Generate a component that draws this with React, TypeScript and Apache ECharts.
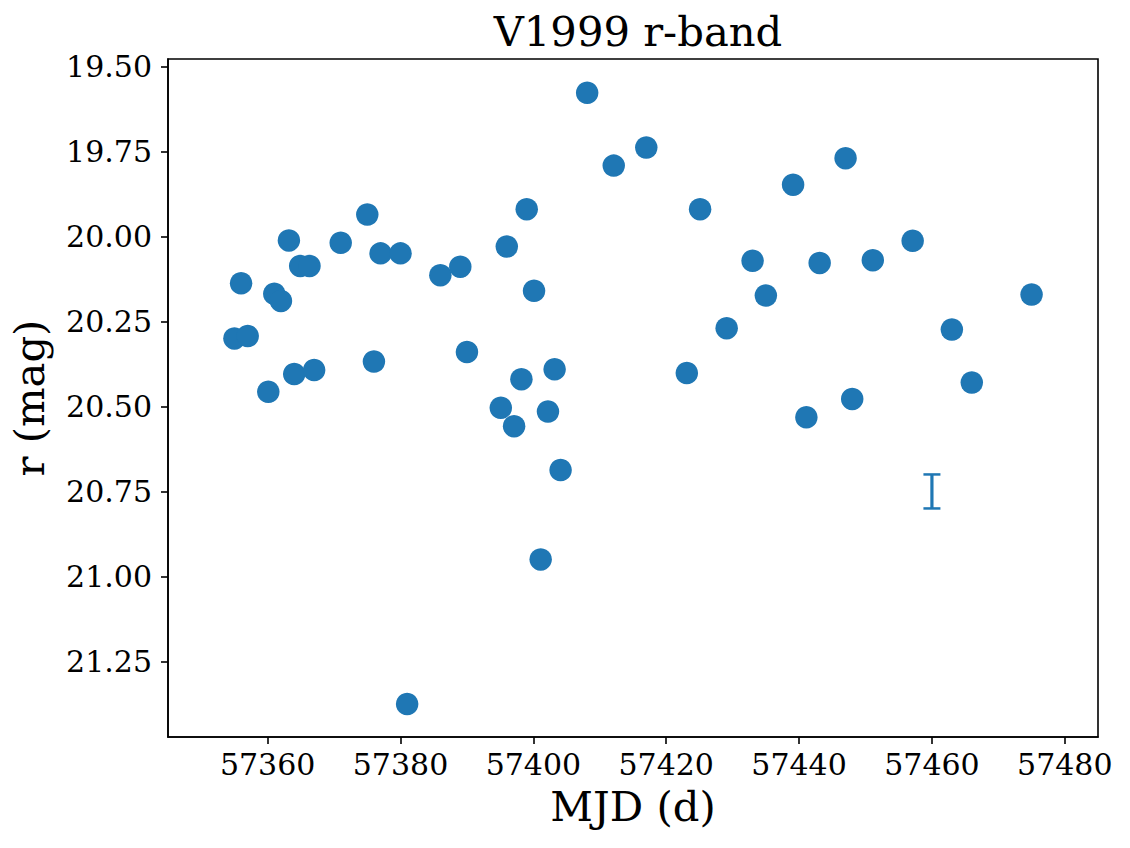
import React, { useEffect, useRef } from "react";
import * as echarts from "echarts";

const mjd = [57355, 57357, 57356, 57360.1, 57361, 57362, 57363.2, 57364, 57364.9, 57366.3, 57367, 57371, 57375, 57376, 57377, 57380, 57381, 57386, 57389, 57396, 57399, 57400.1, 57408.1, 57412.1, 57417, 57425.1, 57390, 57398.2, 57403.2, 57423.1, 57395.1, 57397.1, 57402.2, 57404.1, 57401.1, 57447, 57439.1, 57433, 57443.1, 57451.1, 57457.1, 57435, 57429.1, 57441.1, 57448, 57463, 57466, 57475];
const mag = [20.3, 20.293, 20.138, 20.457, 20.169, 20.19, 20.012, 20.405, 20.087, 20.087, 20.393, 20.019, 19.936, 20.368, 20.05, 20.05, 21.375, 20.114, 20.089, 20.03, 19.92, 20.16, 19.578, 19.792, 19.739, 19.92, 20.34, 20.42, 20.391, 20.402, 20.504, 20.558, 20.515, 20.687, 20.95, 19.77, 19.848, 20.072, 20.078, 20.07, 20.013, 20.174, 20.27, 20.532, 20.478, 20.274, 20.43, 20.171];

const errX = [57460];
const errY = [20.75];
const errSize = [0.05];

const xTicks = [57360, 57380, 57400, 57420, 57440, 57460, 57480];
const yTicks = [19.5, 19.75, 20.0, 20.25, 20.5, 20.75, 21.0, 21.25];

const FONT = "DejaVu Serif";
const BLUE = "#1f77b4";

export default function App() {
  const ref = useRef<HTMLDivElement>(null);
  useEffect(() => {
    if (!ref.current) return;
    const chart = echarts.init(ref.current, undefined, { renderer: "svg" });
    const points = mjd.map((x, i) => [x, mag[i]]);
    const errData = errX.map((x, i) => [x, errY[i], errSize[i]]);
    chart.setOption({
      animation: false,
      backgroundColor: "#fff",
      title: {
        text: "V1999 r-band",
        left: 633,
        textAlign: "center",
        top: 5,
        textStyle: { fontFamily: FONT, fontSize: 41.7, fontWeight: "normal", color: "#000" },
      },
      grid: {
        left: 168,
        top: 59,
        width: 930,
        height: 678,
        show: true,
        borderColor: "#000",
        borderWidth: 1.6,
        backgroundColor: "transparent",
      },
      xAxis: {
        type: "value",
        min: 57345,
        max: 57485,
        name: "MJD (d)",
        nameLocation: "middle",
        nameGap: 48,
        nameTextStyle: { fontFamily: FONT, fontSize: 41.7, color: "#000" },
        axisLine: { show: true, onZero: false, lineStyle: { color: "#000", width: 1.6 } },
        axisTick: { show: true, length: 7, customValues: xTicks, lineStyle: { color: "#000", width: 1.6 } },
        axisLabel: {
          customValues: xTicks,
          margin: 12,
          fontFamily: FONT,
          fontSize: 30,
          color: "#000",
          formatter: (v: number) => String(Math.round(v)),
        },
        splitLine: { show: false },
      },
      yAxis: {
        type: "value",
        inverse: true,
        min: 19.4785,
        max: 21.472,
        name: "r (mag)",
        nameLocation: "middle",
        nameRotate: 90,
        nameGap: 118,
        nameTextStyle: { fontFamily: FONT, fontSize: 41.7, color: "#000" },
        axisLine: { show: true, onZero: false, lineStyle: { color: "#000", width: 1.6 } },
        axisTick: { show: true, length: 7, customValues: yTicks, lineStyle: { color: "#000", width: 1.6 } },
        axisLabel: {
          customValues: yTicks,
          margin: 16,
          fontFamily: FONT,
          fontSize: 30,
          color: "#000",
          formatter: (v: number) => v.toFixed(2),
        },
        splitLine: { show: false },
      },
      series: [
        {
          type: "scatter",
          data: points,
          symbol: "circle",
          symbolSize: 22.5,
          itemStyle: { color: BLUE, opacity: 1 },
        },
        {
          type: "custom",
          data: errData,
          renderItem: (params: any, api: any) => {
            const x = api.value(0);
            const y = api.value(1);
            const e = api.value(2);
            const top = api.coord([x, y - e]);
            const bot = api.coord([x, y + e]);
            const half = 8.5;
            return {
              type: "group",
              children: [
                { type: "line", shape: { x1: top[0], y1: top[1], x2: bot[0], y2: bot[1] }, style: { stroke: BLUE, lineWidth: 3.2 } },
                { type: "line", shape: { x1: top[0] - half, y1: top[1], x2: top[0] + half, y2: top[1] }, style: { stroke: BLUE, lineWidth: 2.5 } },
                { type: "line", shape: { x1: bot[0] - half, y1: bot[1], x2: bot[0] + half, y2: bot[1] }, style: { stroke: BLUE, lineWidth: 2.5 } },
              ],
            };
          },
        },
      ],
    });
    return () => chart.dispose();
  }, []);
  return <div ref={ref} style={{ position: "absolute", left: 0, top: 0, width: 1130, height: 848 }} />;
}
